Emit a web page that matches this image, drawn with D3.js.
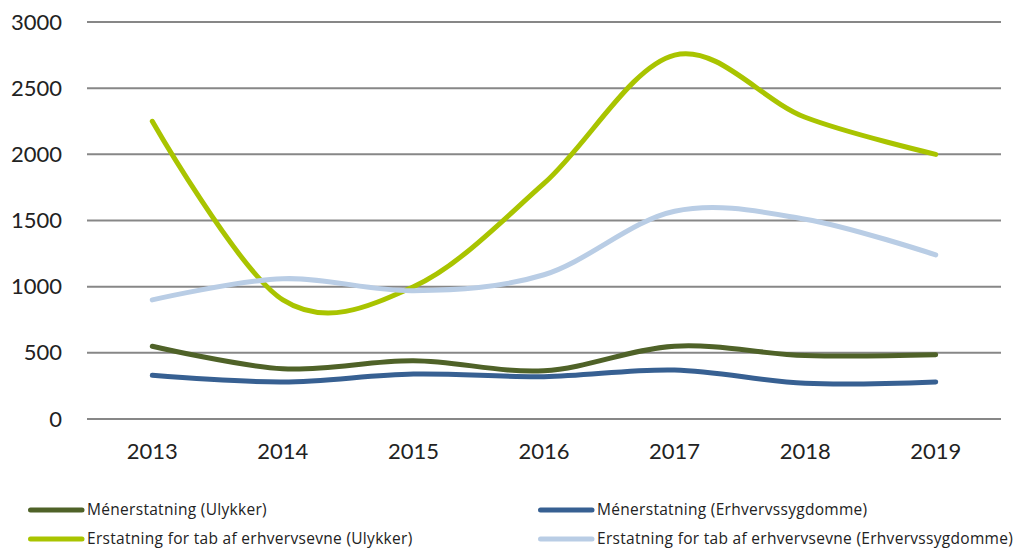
<!DOCTYPE html>
<html>
<head>
<meta charset="utf-8">
<script src="https://cdn.jsdelivr.net/npm/d3@7"></script>
<style>
  body { margin: 0; background: #fff; }
  text { fill: #222; }
</style>
</head>
<body>
<svg id="chart" width="1023" height="549"></svg>
<script>
// data
const years = ["2013", "2014", "2015", "2016", "2017", "2018", "2019"];
const yTicks = [0, 500, 1000, 1500, 2000, 2500, 3000];

const menUlykker = [550, 380, 440, 365, 550, 480, 485];
const menErhverv = [330, 280, 340, 320, 370, 270, 280];
const tabUlykker = [2250, 900, 1000, 1780, 2750, 2280, 2000];
const tabErhverv = [900, 1060, 970, 1090, 1570, 1510, 1240];

const seriesNames = [
  "Ménerstatning (Ulykker)",
  "Ménerstatning (Erhvervssygdomme)",
  "Erstatning for tab af erhvervsevne (Ulykker)",
  "Erstatning for tab af erhvervsevne (Erhvervssygdomme)"
];
const seriesColors = ["#4f6228", "#376092", "#a9c400", "#b9cde5"];

let series = [
  { name: seriesNames[0], color: seriesColors[0], values: menUlykker },
  { name: seriesNames[1], color: seriesColors[1], values: menErhverv },
  { name: seriesNames[2], color: seriesColors[2], values: tabUlykker },
  { name: seriesNames[3], color: seriesColors[3], values: tabErhverv }
];

const margin = {top: 22, right: 22, bottom: 130, left: 87},
  width = 1023 - margin.left - margin.right,
  height = 549 - margin.top - margin.bottom;

const svg = d3.select("#chart");
const g = svg.append("g")
  .attr("transform", "translate(" + margin.left + "," + margin.top + ")");

const x = d3.scaleBand()
  .domain(years)
  .range([0, width]);

const y = d3.scaleLinear()
  .domain([0, 3000])
  .range([height, 0]);

// gridlines
g.append("g")
  .selectAll("line")
  .data(yTicks)
  .join("line")
  .attr("x1", 0)
  .attr("x2", width)
  .attr("y1", d => y(d))
  .attr("y2", d => y(d))
  .attr("stroke", "#878787")
  .attr("stroke-width", 2);

// y axis labels
const yAxis = g.append("g")
  .call(d3.axisLeft(y).tickValues(yTicks).tickFormat(d3.format("d")).tickSize(0).tickPadding(25));
yAxis.select(".domain").remove();
yAxis.selectAll("text")
  .attr("font-size", "22px")
  .attr("fill", "#222")
  .style("font-family", "Lato, sans-serif");

// x axis labels
const xAxis = g.append("g")
  .attr("transform", "translate(0," + height + ")")
  .call(d3.axisBottom(x).tickSize(0).tickPadding(24));
xAxis.select(".domain").remove();
xAxis.selectAll("text")
  .attr("font-size", "22px")
  .attr("fill", "#222")
  .style("font-family", "Lato, sans-serif");

const line = d3.line()
  .x((d, i) => x(years[i]) + x.bandwidth() / 2)
  .y(d => y(d))
  .curve(d3.curveCardinal.tension(0));

g.selectAll(".series")
  .data(series)
  .join("path")
  .attr("class", "series")
  .attr("fill", "none")
  .attr("stroke", d => d.color)
  .attr("stroke-width", 5)
  .attr("stroke-linecap", "round")
  .attr("d", d => line(d.values));

// legend
const legendPos = [[28, 510], [538, 510], [28, 539], [538, 539]];
const legend = svg.append("g")
  .selectAll("g")
  .data(series)
  .join("g")
  .attr("transform", (d, i) => "translate(" + legendPos[i][0] + "," + legendPos[i][1] + ")");

legend.append("line")
  .attr("x1", 2.5)
  .attr("x2", 54)
  .attr("stroke", d => d.color)
  .attr("stroke-width", 5)
  .attr("stroke-linecap", "round");

legend.append("text")
  .attr("x", 59)
  .attr("y", 5)
  .attr("font-size", "15.5px")
  .attr("letter-spacing", "0.3px")
  .style("font-family", "'Open Sans', sans-serif")
  .text(d => d.name);
</script>
</body>
</html>
